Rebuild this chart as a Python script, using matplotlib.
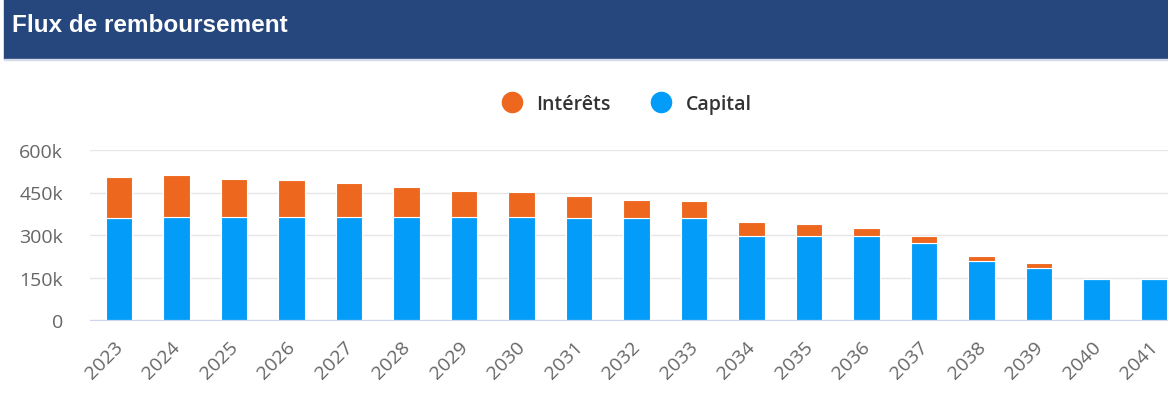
import matplotlib.pyplot as plt
import matplotlib.transforms as mtransforms
from matplotlib.lines import Line2D
from matplotlib.patches import Rectangle
from matplotlib.ticker import FuncFormatter

# Repayment flows per year, in thousands
years = [str(y) for y in range(2023, 2042)]
capital = [360, 365, 365, 365, 365, 365, 365, 365, 359, 359, 359,
           296, 296, 295, 272, 209, 185, 146, 146]
interets = [146, 146, 134, 128, 117, 103, 91, 86, 79, 66, 61,
            49, 42, 31, 23, 18, 17, 0, 0]

BLUE = '#039df9'
ORANGE = '#ee671e'
HEADER = '#25477e'
W, H = 1168, 406

fig = plt.figure(figsize=(W / 100, H / 100), dpi=100)

# header band
fig.patches.append(Rectangle((4 / W, 1 - 60 / H), 1 - 4 / W, 60 / H,
                             transform=fig.transFigure, color=HEADER, zorder=0))
fig.patches.append(Rectangle((4 / W, 1 - 61 / H), 1 - 4 / W, 1 / H,
                             transform=fig.transFigure, color='#d5dbe8', zorder=0))
fig.text(12 / W, 1 - 25 / H, 'Flux de remboursement', color='white',
         fontsize=17.5, fontweight='bold', family='Liberation Sans', va='center')

# plot area: 19 slots of ~57.5px starting at x=90, running past the right edge
ax = fig.add_axes([90 / W, (H - 321) / H, 1093 / W, 170 / H])
x = list(range(len(years)))
ax.bar(x, capital, width=0.46, color=BLUE, edgecolor='white', linewidth=0.8, zorder=3)
ax.bar(x, interets, bottom=capital, width=0.46, color=ORANGE, edgecolor='white',
       linewidth=0.8, zorder=3)

ax.set_xlim(-0.5, len(years) - 0.5)
ax.set_ylim(0, 600)
ax.set_yticks([0, 150, 300, 450, 600])
ax.yaxis.set_major_formatter(FuncFormatter(lambda v, p: '0' if v == 0 else f'{int(v)}k'))
ax.grid(axis='y', color='#e6e6e6', linewidth=1, zorder=0)
for s in ['top', 'right', 'left']:
    ax.spines[s].set_visible(False)
ax.spines['bottom'].set_color('#ccd6eb')
ax.spines['bottom'].set_zorder(4)
ax.tick_params(axis='y', length=0, pad=19.5, labelsize=14, labelcolor='#666666')
ax.tick_params(axis='x', length=0, pad=4, labelsize=14, labelcolor='#666666')
for lbl in ax.get_yticklabels():
    lbl.set_family('Open Sans')

ax.set_xticks(x)
ax.set_xticklabels(years, rotation=45, ha='right', va='center',
                   rotation_mode='anchor', family='Open Sans')
offset = mtransforms.ScaledTranslation(1 / 100, -18 / 100, fig.dpi_scale_trans)
for lbl in ax.get_xticklabels():
    lbl.set_transform(lbl.get_transform() + offset)

handles = [Line2D([], [], marker='o', linestyle='none', markersize=14.5,
                  markerfacecolor=ORANGE, markeredgecolor=ORANGE),
           Line2D([], [], marker='o', linestyle='none', markersize=14.5,
                  markerfacecolor=BLUE, markeredgecolor=BLUE)]
fig.legend(handles, ['Intérêts', 'Capital'], loc='center', ncol=2,
           bbox_to_anchor=(622 / W, 1 - 105 / H), frameon=False,
           handletextpad=0.25, columnspacing=1.6,
           prop={'family': 'Open Sans', 'size': 14, 'weight': 'semibold'},
           labelcolor='#333333')

fig.savefig('out.png', dpi=100)
